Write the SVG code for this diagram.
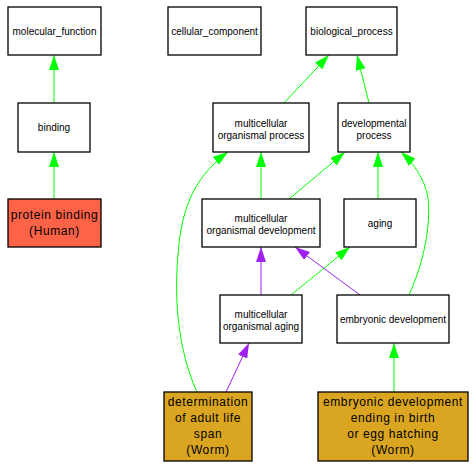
<svg xmlns="http://www.w3.org/2000/svg" width="475" height="468" viewBox="0 0 475 468">
<style>
rect{stroke:#000;stroke-width:1.3}
.w{fill:#fff}
.h{fill:#ff6347}
.g{fill:#daa520}
text{font-family:"Liberation Sans",Arial,sans-serif;text-anchor:middle;fill:#000}
.s{font-size:10px}
.b{font-size:12px;letter-spacing:0.6px}
.e{fill:none;stroke-width:1}
.gr{stroke:#00ff00}
.pu{stroke:#a020f0}
</style>
<defs>
<marker id="ag" viewBox="0 -5 15 10" markerWidth="15" markerHeight="10" refX="15" refY="0" orient="auto" markerUnits="userSpaceOnUse"><path d="M0,-5 L15,0 L0,5 Z" fill="#00ff00"/></marker>
<marker id="ap" viewBox="0 -5 15 10" markerWidth="15" markerHeight="10" refX="15" refY="0" orient="auto" markerUnits="userSpaceOnUse"><path d="M0,-5 L15,0 L0,5 Z" fill="#a020f0"/></marker>
</defs>
<g id="edges">
<path class="e gr" d="M54,199 L54,152" marker-end="url(#ag)"/>
<path class="e gr" d="M54,103 L54,55" marker-end="url(#ag)"/>
<path class="e gr" d="M284,103 L329,55" marker-end="url(#ag)"/>
<path class="e gr" d="M369,103 L357,55" marker-end="url(#ag)"/>
<path class="e gr" d="M261,199 L261,152" marker-end="url(#ag)"/>
<path class="e gr" d="M289,199 L345,152" marker-end="url(#ag)"/>
<path class="e gr" d="M378,199 L378,152" marker-end="url(#ag)"/>
<path class="e gr" d="M409,295 C424,262 431,225 428,198 C425,178 412,162 401,152" marker-end="url(#ag)"/>
<path class="e gr" d="M197,392 C178,350 174,300 178,255 C181,215 190,180 228,152" marker-end="url(#ag)"/>
<path class="e pu" d="M261,295 L261,247" marker-end="url(#ap)"/>
<path class="e gr" d="M291,295 L350,247" marker-end="url(#ag)"/>
<path class="e pu" d="M360,295 L295,247" marker-end="url(#ap)"/>
<path class="e pu" d="M226,392 L249,343" marker-end="url(#ap)"/>
<path class="e gr" d="M394,392 L394,343" marker-end="url(#ag)"/>
</g>
<g id="molecular_function"><rect class="w" x="8" y="7" width="93" height="48"/><text class="s" x="54.5" y="35">molecular_function</text></g>
<g id="cellular_component"><rect class="w" x="168" y="7" width="93" height="48"/><text class="s" x="214.5" y="35">cellular_component</text></g>
<g id="biological_process"><rect class="w" x="306" y="7" width="91" height="48"/><text class="s" x="351.5" y="35">biological_process</text></g>
<g id="binding"><rect class="w" x="18" y="103" width="72" height="49"/><text class="s" x="54" y="131">binding</text></g>
<g id="protein_binding"><rect class="h" x="8" y="199" width="93" height="48"/><text class="b" x="54.5" y="219">protein binding</text><text class="b" x="54.5" y="235">(Human)</text></g>
<g id="multicellular_organismal_process"><rect class="w" x="213" y="103" width="96" height="49"/><text class="s" x="261" y="126.5">multicellular</text><text class="s" x="261" y="138.5">organismal process</text></g>
<g id="developmental_process"><rect class="w" x="338" y="103" width="72" height="49"/><text class="s" x="374" y="126.5">developmental</text><text class="s" x="374" y="138.5">process</text></g>
<g id="multicellular_organismal_development"><rect class="w" x="202" y="199" width="118" height="48"/><text class="s" x="261" y="222">multicellular</text><text class="s" x="261" y="234">organismal development</text></g>
<g id="aging"><rect class="w" x="344" y="199" width="72" height="48"/><text class="s" x="380" y="227">aging</text></g>
<g id="multicellular_organismal_aging"><rect class="w" x="220" y="295" width="82" height="48"/><text class="s" x="261" y="318">multicellular</text><text class="s" x="261" y="330">organismal aging</text></g>
<g id="embryonic_development"><rect class="w" x="337" y="295" width="112" height="48"/><text class="s" x="393" y="323">embryonic development</text></g>
<g id="determination_of_adult_life_span"><rect class="g" x="164" y="392" width="88" height="69"/><text class="b" x="208" y="406">determination</text><text class="b" x="208" y="422">of adult life</text><text class="b" x="208" y="438">span</text><text class="b" x="208" y="454">(Worm)</text></g>
<g id="embryonic_development_ending"><rect class="g" x="318" y="392" width="150" height="69"/><text class="b" x="393" y="406">embryonic development</text><text class="b" x="393" y="422">ending in birth</text><text class="b" x="393" y="438">or egg hatching</text><text class="b" x="393" y="454">(Worm)</text></g>
</svg>
